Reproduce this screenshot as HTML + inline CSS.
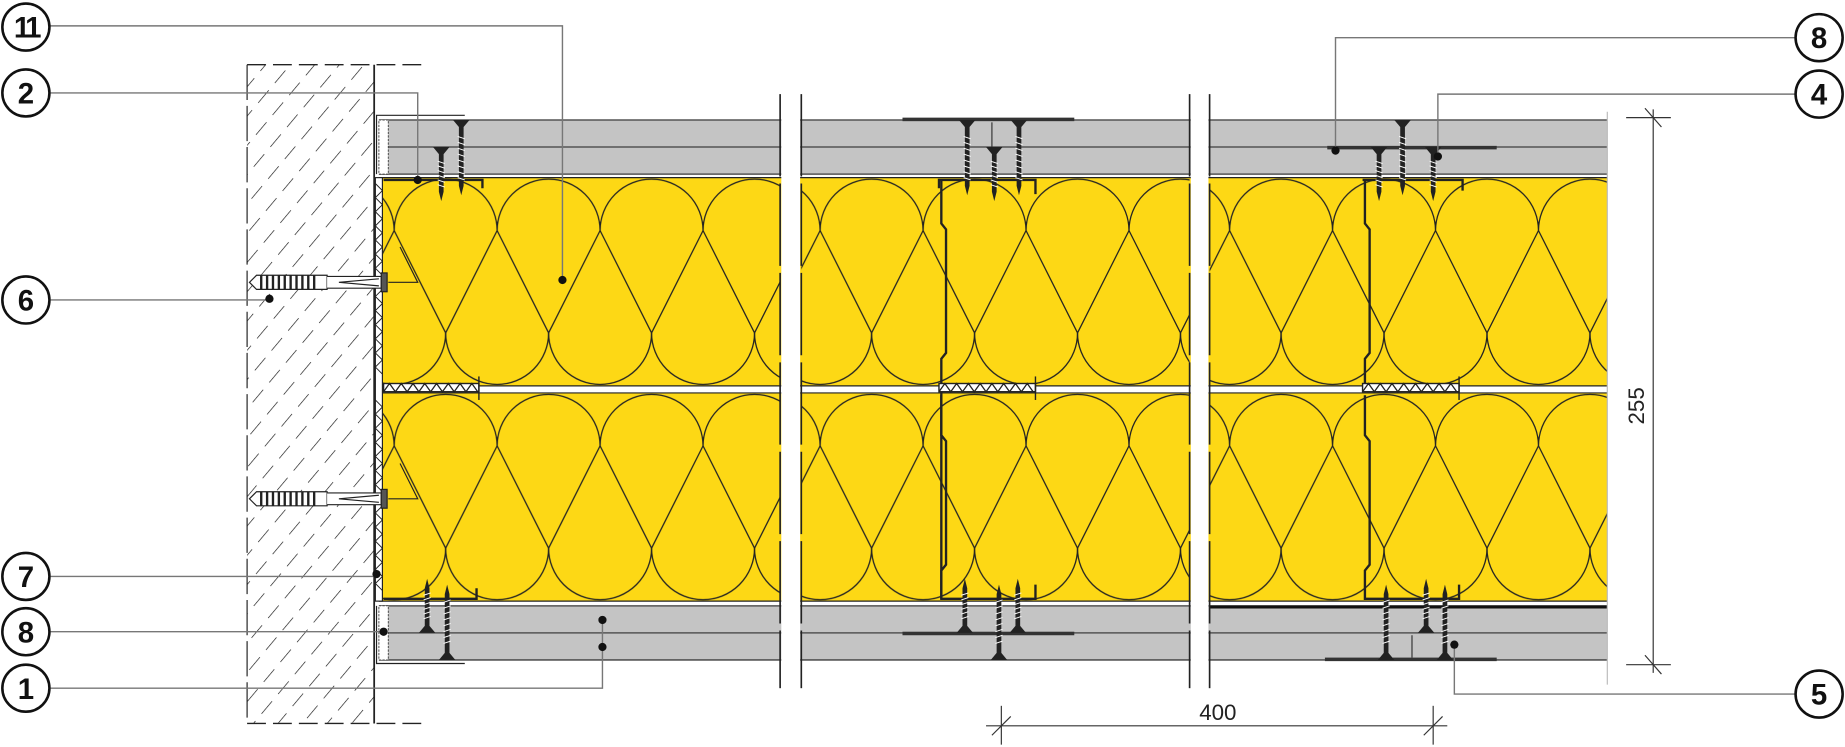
<!DOCTYPE html>
<html><head><meta charset="utf-8"><style>html,body{margin:0;padding:0;background:#fff}svg{display:block}</style></head>
<body>
<svg width="1845" height="747" viewBox="0 0 1568 635" preserveAspectRatio="none" xmlns="http://www.w3.org/2000/svg" font-family="Liberation Sans, sans-serif">
<defs>
  <pattern id="hatch" patternUnits="userSpaceOnUse" width="16" height="22" patternTransform="rotate(40)">
    <line x1="0" y1="0" x2="0" y2="22" stroke="#111" stroke-width="1.1" stroke-dasharray="14 8"/>
  </pattern>
  <pattern id="ins1" patternUnits="userSpaceOnUse" x="335" y="151" width="87.5" height="183">
    <g fill="none" stroke="#222" stroke-width="1.1">
      <path d="M0,45 A43.75,43.75 0 0 1 87.5,45"/>
      <path d="M0,45 L43.75,132 L87.5,45"/>
      <path d="M0,45 L-43.75,132 M87.5,45 L131.25,132"/>
      <path d="M-43.75,132 A43.75,43.75 0 0 0 43.75,132"/>
      <path d="M43.75,132 A43.75,43.75 0 0 0 131.25,132"/>
    </g>
  </pattern>
  <pattern id="ins2" href="#ins1" x="697"/>
  <pattern id="ins3" href="#ins1" x="1045"/>
  <g id="scr">
    <path d="M-7,0 L7,0 L2,6 L2,38 L0,46 L-2,38 L-2,6 Z" fill="#222"/>
    <path d="M-3,12 L3,14 M-3,16 L3,18 M-3,20 L3,22 M-3,24 L3,26 M-3,28 L3,30 M-3,32 L3,34" stroke="#fff" stroke-width="0.8"/>
  </g>
  <g id="scrL">
    <path d="M-7,0 L7,0 L2,6 L2,56 L0,64 L-2,56 L-2,6 Z" fill="#222"/>
    <path d="M-3,14 L3,16 M-3,19 L3,21 M-3,24 L3,26 M-3,29 L3,31 M-3,34 L3,36 M-3,39 L3,41 M-3,44 L3,46 M-3,49 L3,51" stroke="#fff" stroke-width="0.8"/>
  </g>
  <g id="anchor">
    <path d="M0,-6 L60,-6 L60,6 L0,6 L-6,0 Z" fill="#fff" stroke="#222" stroke-width="1"/>
    <path d="M4,-6 L4,6 M9,-6 L9,6 M14,-6 L14,6 M19,-6 L19,6 M24,-6 L24,6 M29,-6 L29,6 M34,-6 L34,6 M39,-6 L39,6 M44,-6 L44,6 M49,-6 L49,6" stroke="#222" stroke-width="2"/>
    <path d="M60,-5 L106,-5 L106,5 L60,5 M70,0 L104,-3 M70,0 L104,3" fill="#fff" stroke="#222" stroke-width="1"/>
    <rect x="106" y="-8" width="5" height="16" fill="#555" stroke="#222"/>
  </g>
</defs>

<!-- wall -->
<rect x="210" y="55" width="108" height="560" fill="url(#hatch)"/>
<line x1="210" y1="55" x2="210" y2="615" stroke="#222" stroke-dasharray="30 5"/>
<line x1="210" y1="55" x2="358" y2="55" stroke="#222" stroke-width="1.2" stroke-dasharray="16 6"/>
<line x1="210" y1="615" x2="358" y2="615" stroke="#222" stroke-width="1.2" stroke-dasharray="16 6"/>
<line x1="318" y1="55" x2="318" y2="615" stroke="#222" stroke-width="1.5"/>

<!-- insulation -->
<rect x="322" y="151" width="1044" height="360" fill="#fdd815"/>
<rect x="322" y="151" width="341" height="360" fill="url(#ins1)"/>
<rect x="681" y="151" width="330" height="360" fill="url(#ins2)"/>
<rect x="1028" y="151" width="338" height="360" fill="url(#ins3)"/>
<rect x="322" y="328" width="1044" height="6" fill="#fff"/>
<line x1="322" y1="328" x2="1366" y2="328" stroke="#222" stroke-width="1"/>
<line x1="322" y1="334" x2="1366" y2="334" stroke="#222" stroke-width="1"/>
<line x1="322" y1="151" x2="1366" y2="151" stroke="#222" stroke-width="1"/>
<line x1="322" y1="511" x2="1366" y2="511" stroke="#222" stroke-width="1"/>

<!-- boards -->
<rect x="322" y="102" width="1044" height="46" fill="#c4c4c4"/>
<path d="M322,102 H1366 M330,125 H1366 M322,148 H1366" stroke="#555" stroke-width="1.3" fill="none"/>
<rect x="322" y="515" width="1044" height="46" fill="#c4c4c4"/>
<path d="M322,515 H1366 M330,538 H1366 M322,561 H1366" stroke="#555" stroke-width="1.3" fill="none"/>
<line x1="1028" y1="516" x2="1366" y2="516" stroke="#111" stroke-width="2.5"/>
<rect x="322" y="102" width="8" height="46" fill="#fff" stroke="#444" stroke-width="0.8" stroke-dasharray="2 1"/>
<rect x="322" y="515" width="8" height="46" fill="#fff" stroke="#444" stroke-width="0.8" stroke-dasharray="2 1"/>
<path d="M320,148 V98 H395" stroke="#222" fill="none"/>
<path d="M320,515 V564 H395" stroke="#222" fill="none"/>

<!-- resilient strip -->
<rect x="319" y="151" width="6" height="360" fill="#fff" stroke="#222" stroke-width="1"/>
<path d="M319,156 l6,6 l-6,6 l6,6 l-6,6 l6,6 l-6,6 l6,6 l-6,6 l6,6 l-6,6 l6,6 l-6,6 l6,6 l-6,6 l6,6 l-6,6 l6,6 l-6,6 l6,6 l-6,6 l6,6 l-6,6 l6,6 l-6,6 l6,6 l-6,6 l6,6 M319,340 l6,6 l-6,6 l6,6 l-6,6 l6,6 l-6,6 l6,6 l-6,6 l6,6 l-6,6 l6,6 l-6,6 l6,6 l-6,6 l6,6 l-6,6 l6,6 l-6,6 l6,6 l-6,6 l6,6 l-6,6 l6,6 l-6,6 l6,6 l-6,6 l6,6" stroke="#222" stroke-width="0.8" fill="none"/>

<!-- tracks / studs -->
<g stroke="#222" stroke-width="2" fill="none">
  <path d="M326,153 H410 V160"/>
  <path d="M326,509 H405 V500"/>
  <path d="M798,160 V153 H880 V165"/>
  <path d="M800,153 V190 L804,195 V300 L800,305 V509 H880 V497"/>
  <path d="M800,336 V370 L804,375 V480 L800,485 V509"/>
  <path d="M1158,153 H1243 V162"/>
  <path d="M1160,153 V190 L1164,195 V300 L1160,305 V328"/>
  <path d="M1160,336 V370 L1164,375 V480 L1160,485 V509 H1240 V497"/>
</g>
<!-- mid tracks -->
<g stroke="#222" stroke-width="1.2">
  <rect x="326" y="326" width="81" height="7" fill="#fff"/>
  <rect x="798" y="326" width="82" height="7" fill="#fff"/>
  <rect x="1158" y="326" width="82" height="7" fill="#fff"/>
  <path d="M326,333 l5,-7 l5,7 l5,-7 l5,7 l5,-7 l5,7 l5,-7 l5,7 l5,-7 l5,7 l5,-7 l5,7 l5,-7 l5,7 l5,-7 l5,7 M798,333 l5,-7 l5,7 l5,-7 l5,7 l5,-7 l5,7 l5,-7 l5,7 l5,-7 l5,7 l5,-7 l5,7 l5,-7 l5,7 l5,-7 l5,7 M1158,333 l5,-7 l5,7 l5,-7 l5,7 l5,-7 l5,7 l5,-7 l5,7 l5,-7 l5,7 l5,-7 l5,7 l5,-7 l5,7 l5,-7 l5,7" fill="none" stroke-width="1.1"/>
  <line x1="880" y1="320" x2="880" y2="340"/>
  <line x1="1240" y1="320" x2="1240" y2="340"/>
  <line x1="407" y1="320" x2="407" y2="340"/>
</g>

<!-- plates -->
<rect x="767" y="100" width="146" height="3" fill="#333"/>
<rect x="1128" y="124" width="144" height="3" fill="#333"/>
<rect x="767" y="537" width="146" height="3" fill="#333"/>
<rect x="1126" y="559" width="146" height="3" fill="#333"/>
<line x1="843" y1="104" x2="843" y2="125" stroke="#333"/>
<line x1="1200" y1="540" x2="1200" y2="559" stroke="#333"/>

<!-- screws top -->
<use href="#scr" x="375" y="125"/>
<use href="#scrL" x="392" y="102"/>
<use href="#scrL" x="822" y="102"/>
<use href="#scr" x="845" y="125"/>
<use href="#scrL" x="866" y="102"/>
<use href="#scr" x="1172" y="125"/>
<use href="#scrL" x="1192" y="102"/>
<use href="#scr" x="1218" y="125"/>
<!-- screws bottom -->
<use href="#scr" transform="translate(363,538) scale(1,-1)"/>
<use href="#scrL" transform="translate(380,561) scale(1,-1)"/>
<use href="#scr" transform="translate(820,538) scale(1,-1)"/>
<use href="#scrL" transform="translate(849,561) scale(1,-1)"/>
<use href="#scr" transform="translate(865,538) scale(1,-1)"/>
<use href="#scrL" transform="translate(1178,561) scale(1,-1)"/>
<use href="#scr" transform="translate(1212,538) scale(1,-1)"/>
<use href="#scrL" transform="translate(1228,561) scale(1,-1)"/>

<!-- anchors -->
<use href="#anchor" x="218" y="240"/>
<use href="#anchor" x="218" y="424"/>
<path d="M330,240 H355 L340,210 M330,424 H355 L340,394" stroke="#222" fill="none"/>

<!-- break gaps -->
<rect x="664" y="80" width="16" height="506" fill="#fff"/>
<rect x="1012" y="80" width="15" height="506" fill="#fff"/>
<g stroke="#222" stroke-width="1.4" stroke-dasharray="70 6">
  <line x1="663" y1="80" x2="663" y2="585"/>
  <line x1="681" y1="80" x2="681" y2="585"/>
  <line x1="1011" y1="80" x2="1011" y2="585"/>
  <line x1="1028" y1="80" x2="1028" y2="585"/>
</g>
<line x1="1366" y1="95" x2="1366" y2="582" stroke="#bbb" stroke-width="1"/>

<!-- dimensions -->
<g stroke="#333" stroke-width="1">
  <line x1="1405" y1="93" x2="1405" y2="572"/>
  <line x1="1382" y1="100" x2="1420" y2="100"/><line x1="1398" y1="92" x2="1412" y2="108"/>
  <line x1="1382" y1="565" x2="1420" y2="565"/><line x1="1398" y1="557" x2="1412" y2="573"/>
  <line x1="838" y1="617" x2="1230" y2="617"/>
  <line x1="851" y1="600" x2="851" y2="633"/><line x1="843" y1="625" x2="859" y2="609"/>
  <line x1="1218" y1="600" x2="1218" y2="633"/><line x1="1210" y1="625" x2="1226" y2="609"/>
</g>
<text x="1035" y="612" font-size="19" text-anchor="middle" fill="#222">400</text>
<text transform="translate(1397,345) rotate(-90)" font-size="19" text-anchor="middle" fill="#222">255</text>

<!-- leaders -->
<g stroke="#777" stroke-width="1.2" fill="none">
  <path d="M42,22 H478 V238"/>
  <path d="M43,79 H355 V153"/>
  <path d="M43,255 H229"/>
  <path d="M43,490 H320"/>
  <path d="M43,537 H326"/>
  <path d="M43,585 H512 V527"/>
  <path d="M1526,32 H1135 V128"/>
  <path d="M1526,80 H1222 V133"/>
  <path d="M1526,590 H1236 V548"/>
</g>
<g fill="#111">
  <circle cx="478" cy="238" r="3.5"/><circle cx="355" cy="153" r="3.5"/>
  <circle cx="229" cy="254" r="3.5"/><circle cx="320" cy="488" r="3.5"/>
  <circle cx="326" cy="537" r="3.5"/><circle cx="512" cy="527" r="3.5"/>
  <circle cx="512" cy="550" r="3.5"/><circle cx="1135" cy="128" r="3.5"/>
  <circle cx="1222" cy="133" r="3.5"/><circle cx="1236" cy="548" r="3.5"/>
</g>
<g fill="#fff" stroke="#111" stroke-width="2.2">
  <circle cx="22" cy="23" r="20"/><circle cx="22" cy="79" r="20"/>
  <circle cx="22" cy="255" r="20"/><circle cx="22" cy="490" r="20"/>
  <circle cx="22" cy="537" r="20"/><circle cx="22" cy="585" r="20"/>
  <circle cx="1546" cy="32" r="20"/><circle cx="1546" cy="80" r="20"/>
  <circle cx="1546" cy="590" r="20"/>
</g>
<g font-size="25" font-weight="bold" text-anchor="middle" fill="#111">
  <text x="22" y="32" letter-spacing="-3">11</text>
  <text x="22" y="88">2</text>
  <text x="22" y="264">6</text>
  <text x="22" y="499">7</text>
  <text x="22" y="546">8</text>
  <text x="22" y="594">1</text>
  <text x="1546" y="41">8</text>
  <text x="1546" y="89">4</text>
  <text x="1546" y="599">5</text>
</g>
</svg>
</body></html>
